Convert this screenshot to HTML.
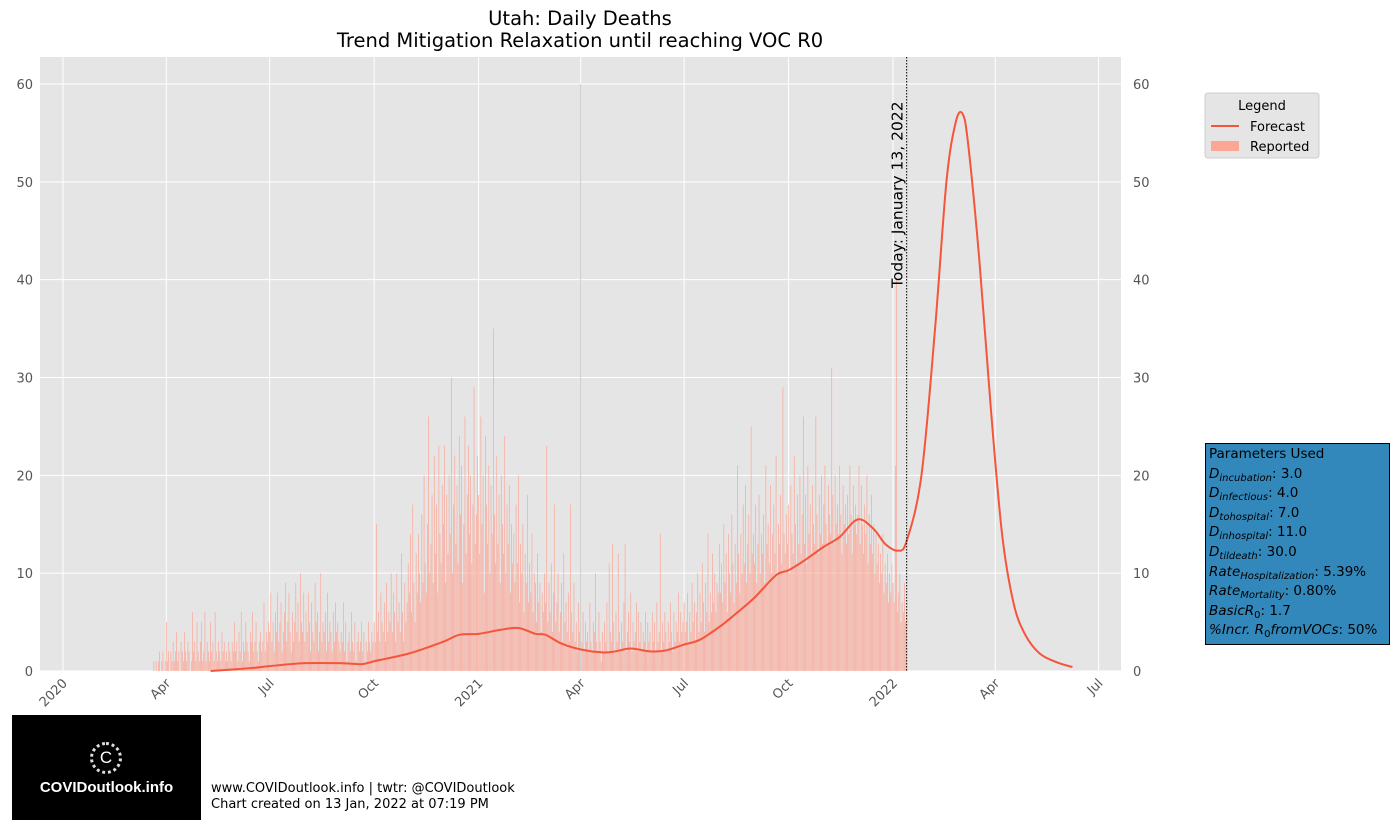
<!DOCTYPE html>
<html><head><meta charset="utf-8">
<style>
body{margin:0;background:#fff;font-family:"Liberation Sans","DejaVu Sans",sans-serif;}
#wrap{position:relative;width:1394px;height:830px;overflow:hidden;}
svg text{font-family:"DejaVu Sans","Liberation Sans",sans-serif;}
.params{position:absolute;left:1205px;top:443px;width:185px;height:202px;background:#3388bb;border:1.5px solid #000;font-family:"DejaVu Sans",sans-serif;font-size:13.5px;line-height:19.6px;padding:1px 3px;box-sizing:border-box;color:#000}
.params i{font-style:italic}
.params sub{font-size:10px;font-style:italic;vertical-align:-3px;line-height:0}
</style></head><body>
<div id="wrap">
<svg id="chart" width="1394" height="830"></svg>
<div class="params">
<div>Parameters Used</div>
<div><i>D</i><sub>incubation</sub>: 3.0</div>
<div><i>D</i><sub>infectious</sub>: 4.0</div>
<div><i>D</i><sub>tohospital</sub>: 7.0</div>
<div><i>D</i><sub>inhospital</sub>: 11.0</div>
<div><i>D</i><sub>tildeath</sub>: 30.0</div>
<div><i>Rate</i><sub>Hospitalization</sub>: 5.39%</div>
<div><i>Rate</i><sub>Mortality</sub>: 0.80%</div>
<div><i>BasicR</i><sub style="font-style:normal">0</sub>: 1.7</div>
<div><i>%Incr. R</i><sub style="font-style:normal">0</sub><i>fromVOCs</i>: 50%</div>
</div>
<div style="position:absolute;left:12px;top:715px;width:189px;height:105px;background:#000;color:#fff;">
<div style="position:absolute;left:78px;top:27px;width:32px;height:32px;border:3px dotted #ddd;border-radius:50%;box-sizing:border-box;text-align:center;font-size:17px;line-height:26px;">C</div>
<div style="position:absolute;left:0;width:189px;top:64px;text-align:center;font-size:15px;font-weight:bold;">COVIDoutlook.info</div>
</div>
<div style="position:absolute;left:211px;top:781px;font-family:'DejaVu Sans',sans-serif;font-size:13px;line-height:16px;">www.COVIDoutlook.info | twtr: @COVIDoutlook<br>Chart created on 13 Jan, 2022 at 07:19 PM</div>
</div>
<script>
const barStart = "2020-03-21";
const reported = [
1,0,1,0,1,2,0,1,2,0,1,
5,1,2,0,2,1,3,1,2,4,1,2,0,3,2,1,4,2,1,3,2,0,1,6,2,3,1,5,2,1,
3,5,1,2,6,1,3,2,1,5,2,3,1,6,2,1,3,2,1,4,2,3,1,2,1,3,2,1,3,2,5,
2,3,1,4,2,6,1,3,2,5,3,2,1,4,3,6,2,3,5,2,1,3,4,2,3,7,2,4,3,5,
4,8,3,5,2,6,4,8,3,5,7,2,4,6,9,3,5,8,4,2,6,3,5,9,4,7,3,10,5,4,8,
3,6,4,8,5,2,7,4,3,9,5,6,2,4,10,3,5,4,6,2,8,3,5,4,2,6,3,7,4,5,3,
2,4,3,7,2,5,1,3,4,2,6,3,2,5,1,3,4,2,3,5,2,4,1,3,2,5,3,2,4,3,
5,3,15,4,6,3,8,5,4,7,3,9,4,6,5,10,4,8,6,3,10,5,7,4,12,6,3,9,5,7,11,
8,14,6,17,9,5,12,8,14,10,7,16,9,20,11,8,15,26,10,13,18,9,22,12,17,8,23,14,11,19,
15,23,9,18,12,20,14,30,10,17,22,13,19,11,24,16,21,9,15,26,12,18,23,14,20,11,17,29,13,16,22,
18,12,26,15,20,8,24,17,13,21,10,19,14,35,16,11,22,13,18,9,20,15,12,24,10,17,13,19,8,15,11,
14,9,17,11,20,7,13,10,15,6,12,9,18,7,11,8,14,6,10,9,5,12,7,9,4,8,6,10,
7,23,5,9,6,11,4,8,17,5,7,10,4,6,9,3,12,5,7,4,8,3,17,6,4,9,3,5,2,7,4,
60,3,6,2,5,3,4,2,7,3,2,5,4,10,3,2,6,3,1,4,2,5,3,7,2,11,4,3,13,5,
2,6,3,12,4,2,5,3,7,13,2,4,6,3,8,2,5,3,4,7,2,6,3,5,2,4,3,6,2,5,3,
4,2,6,3,5,2,7,3,4,14,2,5,3,6,4,2,5,3,7,4,2,6,3,5,4,8,3,6,4,5,
7,4,5,8,3,6,4,9,5,7,3,6,10,4,8,5,11,7,4,9,6,14,5,8,6,12,7,10,6,9,8,
13,8,11,7,15,9,12,6,14,10,8,16,11,7,13,9,21,12,8,14,10,17,11,19,9,13,16,10,25,12,14,
11,17,9,13,18,10,14,12,16,9,21,13,15,11,19,10,14,17,12,22,10,15,13,18,11,29,14,12,16,13,
17,10,19,14,12,22,15,11,18,13,20,12,16,26,13,18,11,21,14,17,12,19,15,13,26,16,12,18,14,20,13,
17,21,15,13,19,16,14,31,18,13,20,15,17,14,21,16,12,19,15,17,13,18,14,21,16,12,19,15,17,14,
16,21,13,19,15,12,17,14,20,11,16,13,18,12,15,10,14,11,13,9,12,10,14,8,11,9,12,7,10,8,11,
9,7,21,40,6,8,10,5,7,6,9,5,6];
const fcDates = ["2020-05-10","2020-06-15","2020-07-01","2020-08-01","2020-09-01","2020-09-20","2020-10-01","2020-11-01","2020-12-01","2020-12-15","2021-01-01","2021-01-20","2021-02-05","2021-02-20","2021-03-01","2021-03-15","2021-04-01","2021-04-20","2021-05-01","2021-05-15","2021-06-01","2021-06-15","2021-07-01","2021-07-15","2021-08-01","2021-08-15","2021-09-01","2021-09-20","2021-10-01","2021-10-15","2021-11-01","2021-11-15","2021-12-01","2021-12-15","2021-12-25","2022-01-05","2022-01-13","2022-01-26","2022-02-07","2022-02-17","2022-02-25","2022-03-03","2022-03-08","2022-03-18","2022-03-28","2022-04-07","2022-04-17","2022-04-27","2022-05-10","2022-05-25","2022-06-08"];
const fcValues = [0,0.3,0.5,0.8,0.8,0.7,1.0,1.8,3.0,3.7,3.8,4.2,4.4,3.8,3.7,2.8,2.2,1.9,2.0,2.3,2.0,2.1,2.7,3.2,4.5,5.8,7.5,9.8,10.3,11.3,12.7,13.7,15.5,14.5,13.0,12.3,13.3,20,35,50,56,57,54,42,27,14,7,3.8,1.8,0.9,0.4];
const yTicks = [0,10,20,30,40,50,60];
const xTickDates = ["2020-01-01","2020-04-01","2020-07-01","2020-10-01","2021-01-01","2021-04-01","2021-07-01","2021-10-01","2022-01-01","2022-04-01","2022-07-01"];
const xTickLabels = ["2020","Apr","Jul","Oct","2021","Apr","Jul","Oct","2022","Apr","Jul"];
const todayDate = "2022-01-13";

const NS="http://www.w3.org/2000/svg";
const svg=document.getElementById('chart');
const PL=40,PR=1121,PT=57,PB=671;
const t0=Date.parse("2020-01-01"), DAY=86400000;
function X(d){const t=typeof d==="string"?Date.parse(d):d;return 63+(t-t0)/DAY*1.1355;}
function Y(v){return 671-v*9.783;}
function mk(tag,attrs,parent){const e=document.createElementNS(NS,tag);for(const k in attrs)e.setAttribute(k,attrs[k]);(parent||svg).appendChild(e);return e;}

const bg=mk('rect',{x:PL,y:PT,width:PR-PL,height:PB-PT,fill:'#e5e5e5'});


yTicks.forEach(v=>{
  const l=mk('line',{x1:PL,x2:PR,y1:Y(v),y2:Y(v),stroke:'#fff','stroke-width':1});
  
  
  const a=mk('text',{x:PL-7,y:Y(v)+5,'text-anchor':'end','font-size':13,fill:'#555'});a.textContent=v;
  
  
  const b=mk('text',{x:PR+12,y:Y(v)+5,'font-size':13,fill:'#555'});b.textContent=v;
  
  
});
xTickDates.forEach((d,i)=>{
  const x=X(d);
  const l=mk('line',{x1:x,x2:x,y1:PT,y2:PB,stroke:'#fff','stroke-width':1});
  
  
  const t=mk('text',{x:x+5,y:PB+13,'text-anchor':'end','font-size':13,fill:'#555',transform:`rotate(-45 ${x+5} ${PB+13})`});
  t.textContent=xTickLabels[i];
  
  
});
const bs=Date.parse(barStart);
reported.forEach((v,i)=>{
  const x=X(bs+i*DAY);
  const r=mk('rect',{x:x-0.35,y:Y(v),width:0.7,height:Y(0)-Y(v),fill:v>=50?'#b9b9b9':'#fca696'});
  
  
});
const pts=fcDates.map((d,i)=>[X(d),Y(fcValues[i])]);
let dstr=`M${pts[0][0]},${pts[0][1]}`;
for(let i=0;i<pts.length-1;i++){
  const p0=pts[Math.max(0,i-1)],p1=pts[i],p2=pts[i+1],p3=pts[Math.min(pts.length-1,i+2)];
  const c1=[p1[0]+(p2[0]-p0[0])/6,p1[1]+(p2[1]-p0[1])/6],c2=[p2[0]-(p3[0]-p1[0])/6,p2[1]-(p3[1]-p1[1])/6];
  dstr+=`C${c1[0]},${c1[1]} ${c2[0]},${c2[1]} ${p2[0]},${p2[1]}`;
}
const fl=mk('path',{d:dstr,fill:'none',stroke:'#f5553a','stroke-width':2});


const tx=X(todayDate);
const tl=mk('line',{x1:tx,x2:tx,y1:PT,y2:PB,stroke:'#000','stroke-width':1,'stroke-dasharray':'1.5,1.5'});


const tt=mk('text',{x:tx-4,y:288,'font-size':15.5,fill:'#000',transform:`rotate(-90 ${tx-4} 288)`});
tt.textContent="Today: January 13, 2022";


const t1=mk('text',{x:580,y:25,'text-anchor':'middle','font-size':19.5});t1.textContent="Utah: Daily Deaths";


const t2=mk('text',{x:580,y:47,'text-anchor':'middle','font-size':19.5});t2.textContent="Trend Mitigation Relaxation until reaching VOC R0";


const lg=mk('g',{});


mk('rect',{x:1205,y:93,width:114,height:65,rx:3,fill:'#e5e5e5',stroke:'#ccc'},lg);
const lt=mk('text',{x:1262,y:110,'text-anchor':'middle','font-size':13},lg);lt.textContent="Legend";
mk('line',{x1:1211,x2:1239,y1:126,y2:126,stroke:'#f5553a','stroke-width':2},lg);
const le1=mk('text',{x:1250,y:131,'font-size':13},lg);le1.textContent="Forecast";


mk('rect',{x:1211,y:141,width:28,height:10,fill:'#fca696'},lg);
const le2=mk('text',{x:1250,y:151,'font-size':13},lg);le2.textContent="Reported";


</script>
</body></html>
